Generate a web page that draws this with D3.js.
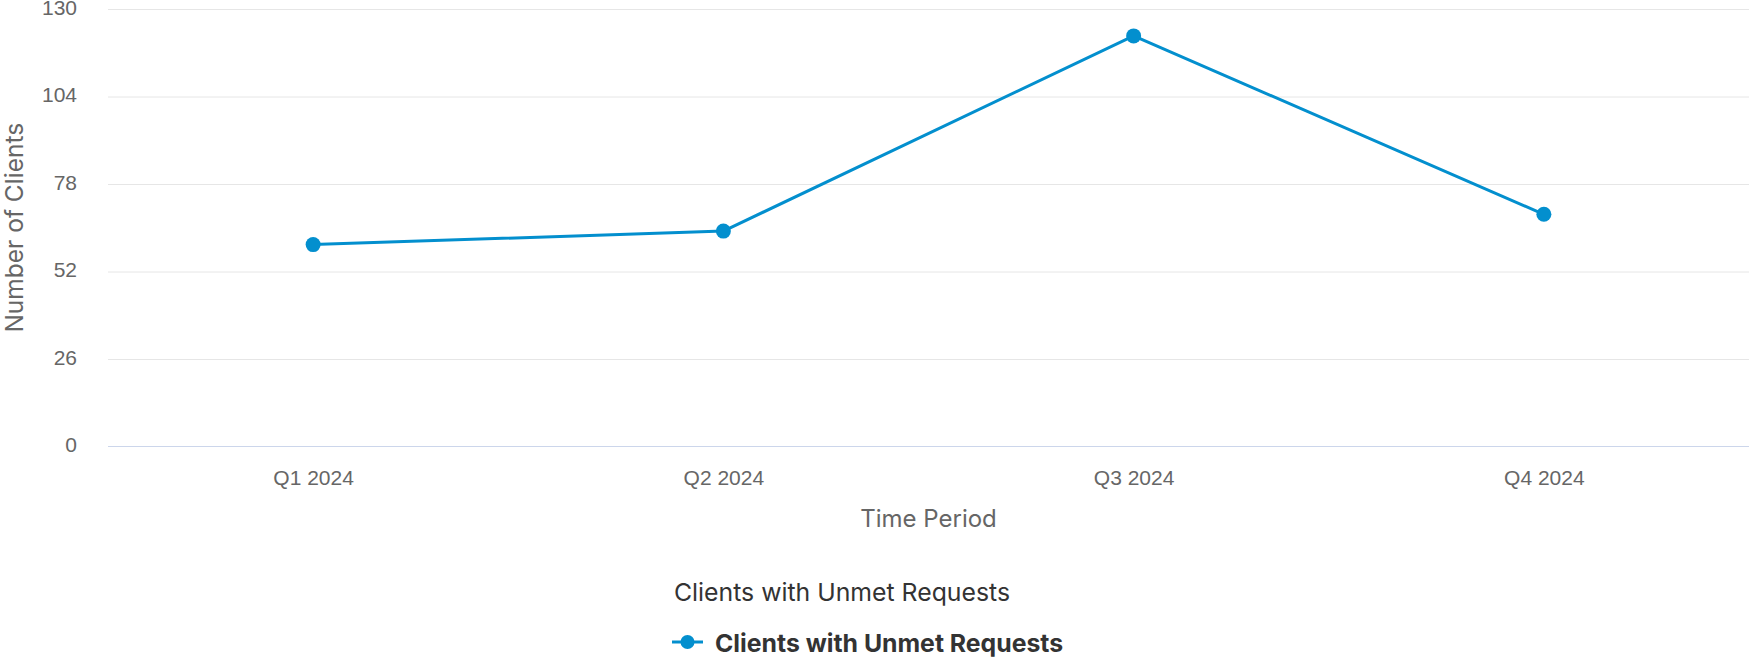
<!DOCTYPE html>
<html>
<head>
<meta charset="utf-8">
<script src="https://cdn.jsdelivr.net/npm/d3@7"></script>
<style>
  html, body { margin: 0; padding: 0; background: #ffffff; }
  svg { display: block; font-family: Inter, "Open Sans", sans-serif; }
</style>
</head>
<body>
<svg id="chart" width="1749" height="658"></svg>
<script>
// Quarterly counts of clients with unmet requests
const quarters = ["Q1 2024", "Q2 2024", "Q3 2024", "Q4 2024"];
const unmetClients = [60, 64, 122, 69];
const yTicks = [0, 26, 52, 78, 104, 130];
const seriesName = "Clients with Unmet Requests";

const svg = d3.select("#chart");
const margin = { top: 9, right: 0, bottom: 211.5, left: 108 };
const width = 1749, height = 658;
const plotW = width - margin.left - margin.right;
const plotH = height - margin.top - margin.bottom;

const lineColor = "#038fce";
const tickColor = "#666666";

const x = d3.scalePoint()
  .domain(quarters)
  .range([0, plotW])
  .padding(0.5);

const y = d3.scaleLinear()
  .domain([0, 130])
  .range([plotH, 0]);

const g = svg.append("g").attr("transform", `translate(${margin.left},${margin.top})`);

// horizontal grid lines with value labels
const yAxis = d3.axisLeft(y)
  .tickValues(yTicks)
  .tickSize(-plotW)
  .tickPadding(31);

g.append("g")
  .attr("class", "y-axis")
  .call(yAxis)
  .call(s => s.select(".domain").remove())
  .call(s => s.selectAll(".tick line")
    .attr("stroke", d => d === 0 ? "none" : "#e6e6e6")
    .attr("stroke-width", 1))
  .call(s => s.selectAll(".tick text")
    .attr("fill", tickColor)
    .attr("font-size", 21)
    .attr("y", 5)
    .attr("dy", null));

// baseline
g.append("line")
  .attr("x1", 0).attr("x2", plotW)
  .attr("y1", y(0)).attr("y2", y(0))
  .attr("stroke", "#ccd6eb").attr("stroke-width", 1.2);

// category labels
const xAxis = d3.axisBottom(x).tickSize(0);
g.append("g")
  .attr("transform", `translate(0,${plotH})`)
  .call(xAxis)
  .call(s => s.select(".domain").remove())
  .call(s => s.selectAll(".tick text")
    .attr("fill", tickColor)
    .attr("font-size", 21)
    .attr("y", 38)
    .attr("dy", null));

// axis titles
svg.append("text")
  .attr("x", margin.left + plotW / 2)
  .attr("y", 527)
  .attr("text-anchor", "middle")
  .attr("fill", tickColor)
  .attr("font-size", 24)
  .text("Time Period");

svg.append("text")
  .attr("transform", `translate(22.5,${margin.top + plotH / 2}) rotate(-90)`)
  .attr("text-anchor", "middle")
  .attr("fill", tickColor)
  .attr("font-size", 24.5)
  .text("Number of Clients");

// series line and markers
const line = d3.line()
  .x((d, i) => x(quarters[i]))
  .y(d => y(d));

g.append("path")
  .datum(unmetClients)
  .attr("fill", "none")
  .attr("stroke", lineColor)
  .attr("stroke-width", 3)
  .attr("stroke-linejoin", "round")
  .attr("d", line);

g.selectAll("circle.pt")
  .data(unmetClients)
  .join("circle")
  .attr("class", "pt")
  .attr("cx", (d, i) => x(quarters[i]))
  .attr("cy", d => y(d))
  .attr("r", 7.5)
  .attr("fill", lineColor);

// legend
svg.append("text")
  .attr("x", 842)
  .attr("y", 600.5)
  .attr("text-anchor", "middle")
  .attr("fill", "#333333")
  .attr("font-size", 24.8)
  .text(seriesName);

const lg = svg.append("g").attr("transform", "translate(672,642)");
lg.append("line")
  .attr("x1", 0).attr("x2", 31).attr("y1", 0).attr("y2", 0)
  .attr("stroke", lineColor).attr("stroke-width", 3);
lg.append("circle")
  .attr("cx", 15.5).attr("cy", 0).attr("r", 7)
  .attr("fill", lineColor);
lg.append("text")
  .attr("x", 43)
  .attr("y", 9.5)
  .attr("fill", "#333333")
  .attr("font-size", 24.8)
  .attr("font-weight", "bold")
  .text(seriesName);
</script>
</body>
</html>
